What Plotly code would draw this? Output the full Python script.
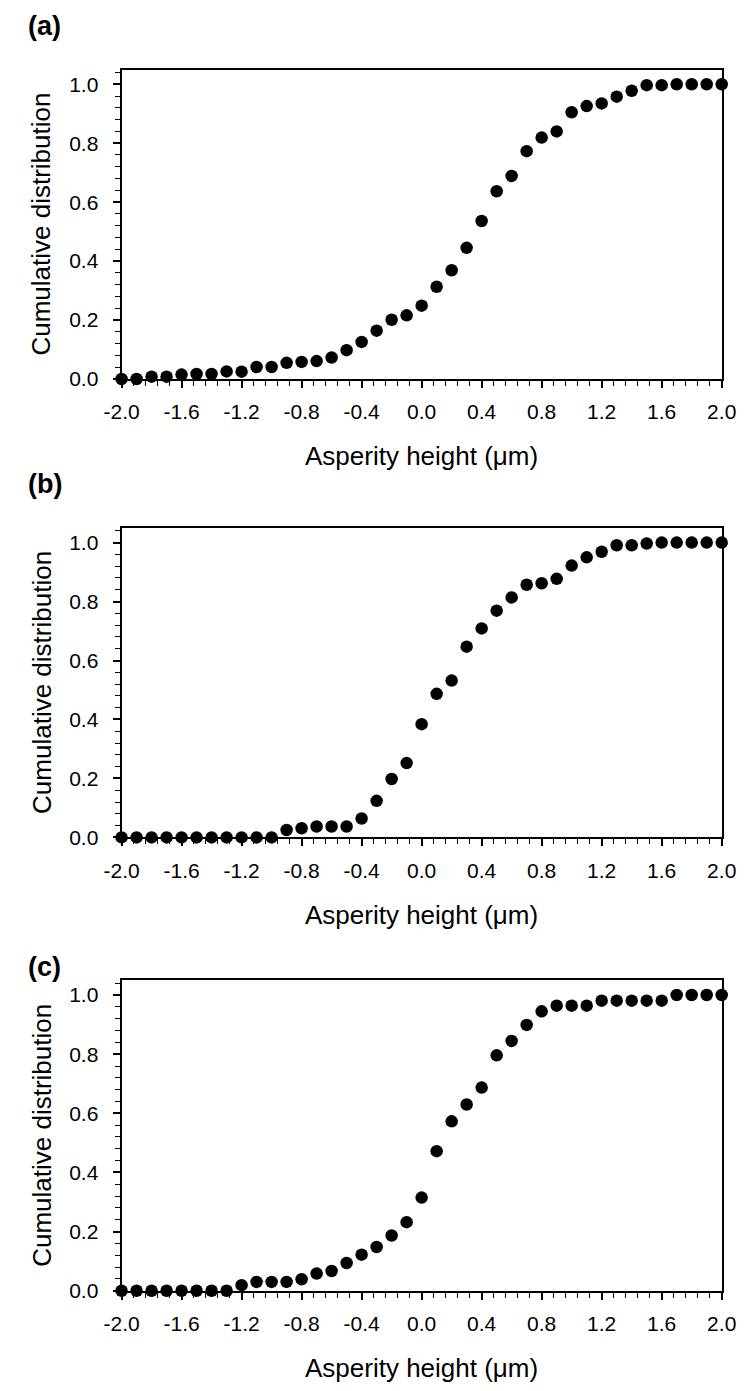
import plotly.graph_objects as go

heights = [round(-2.0 + 0.1 * i, 1) for i in range(41)]

cdf_a = [0.0, 0.0, 0.008, 0.008, 0.015, 0.017, 0.017, 0.026, 0.025, 0.041, 0.041,
         0.055, 0.058, 0.061, 0.073, 0.098, 0.126, 0.164, 0.201, 0.216, 0.249,
         0.313, 0.369, 0.445, 0.536, 0.637, 0.689, 0.773, 0.819, 0.840, 0.905,
         0.926, 0.935, 0.958, 0.978, 0.997, 0.997, 1.0, 1.0, 1.0, 1.0]

cdf_b = [0.0, 0.0, 0.0, 0.0, 0.0, 0.0, 0.0, 0.0, 0.0, 0.0, 0.0,
         0.025, 0.031, 0.037, 0.037, 0.037, 0.064, 0.124, 0.198, 0.252, 0.384,
         0.487, 0.532, 0.647, 0.709, 0.769, 0.814, 0.857, 0.862, 0.877, 0.922,
         0.950, 0.969, 0.991, 0.991, 0.997, 1.0, 1.0, 1.0, 1.0, 1.0]

cdf_c = [0.0, 0.0, 0.0, 0.0, 0.0, 0.0, 0.0, 0.0, 0.019, 0.030, 0.030,
         0.030, 0.039, 0.058, 0.067, 0.094, 0.122, 0.148, 0.187, 0.232, 0.315,
         0.472, 0.573, 0.630, 0.687, 0.796, 0.845, 0.899, 0.945, 0.964, 0.964,
         0.964, 0.981, 0.981, 0.981, 0.981, 0.981, 1.0, 1.0, 1.0, 1.0]

x_tick_vals = [-2.0, -1.6, -1.2, -0.8, -0.4, 0.0, 0.4, 0.8, 1.2, 1.6, 2.0]
x_tick_text = ["-2.0", "-1.6", "-1.2", "-0.8", "-0.4", "0.0", "0.4", "0.8", "1.2", "1.6", "2.0"]
y_tick_vals = [0.0, 0.2, 0.4, 0.6, 0.8, 1.0]
y_tick_text = ["0.0", "0.2", "0.4", "0.6", "0.8", "1.0"]

panel_labels = ["(a)", "(b)", "(c)"]
x_title = "Asperity height (\u03bcm)"
y_title = "Cumulative distribution"

W, H = 744, 1391
left_px, right_px = 100, 728
panels_px = [(62, 374), (524, 836), (980, 1293)]  # top, bottom in px
label_y_px = [18, 480, 967]

FONT = "Arial, Liberation Sans, Helvetica, sans-serif"

fig = go.Figure()
series = [cdf_a, cdf_b, cdf_c]

for i, (vals, (top, bot)) in enumerate(zip(series, panels_px)):
    sfx = "" if i == 0 else str(i + 1)
    fig.add_trace(go.Scatter(
        x=heights, y=vals, mode="markers",
        marker=dict(color="black", size=12.5, line=dict(width=0)),
        cliponaxis=False, showlegend=False,
        xaxis="x" + sfx, yaxis="y" + sfx,
    ))
    ydom = [(H - bot) / H, (H - top) / H]
    xdom = [left_px / W, right_px / W]
    common = dict(
        showline=True, linecolor="black", linewidth=2, mirror=True,
        ticks="outside", ticklen=7, tickwidth=1.6, tickcolor="black",
        showgrid=False, zeroline=False,
        tickfont=dict(family=FONT, size=21, color="black"),
    )
    fig.layout["xaxis" + sfx] = dict(
        common, domain=xdom, range=[-2.0, 2.0], anchor="y" + sfx,
        tickmode="array", tickvals=x_tick_vals, ticktext=x_tick_text, ticklabelstandoff=6,
        minor=dict(ticks="outside", ticklen=5, tickwidth=1.3, tickcolor="black", dtick=0.08, tick0=-2.0),
    )
    fig.layout["yaxis" + sfx] = dict(
        common, domain=ydom, range=[0.0, 1.05], anchor="x" + sfx,
        tickmode="array", tickvals=y_tick_vals, ticktext=y_tick_text, ticklabelstandoff=10,
        minor=dict(ticks="outside", ticklen=5, tickwidth=1.3, tickcolor="black", dtick=0.04, tick0=0),
    )
    # y title
    fig.add_annotation(
        text=y_title, textangle=-90, xref="paper", yref="paper",
        x=16 / W, y=(H - (top + bot) / 2) / H, xanchor="center", yanchor="middle",
        showarrow=False, font=dict(family=FONT, size=26, color="black"),
    )
    # x title
    fig.add_annotation(
        text=x_title, xref="paper", yref="paper",
        x=(left_px + right_px) / 2 / W, y=(H - (bot + 78)) / H,
        xanchor="center", yanchor="middle",
        showarrow=False, font=dict(family=FONT, size=26, color="black"),
    )
    # panel label
    fig.add_annotation(
        text="<b>" + panel_labels[i] + "</b>", xref="paper", yref="paper",
        x=0.0, y=(H - label_y_px[i]) / H, xanchor="left", yanchor="middle",
        showarrow=False, font=dict(family=FONT, size=27, color="black"),
    )

fig.update_layout(
    width=W, height=H,
    margin=dict(l=0, r=0, t=0, b=0),
    paper_bgcolor="white", plot_bgcolor="white",
)

fig.write_html("out.html")
